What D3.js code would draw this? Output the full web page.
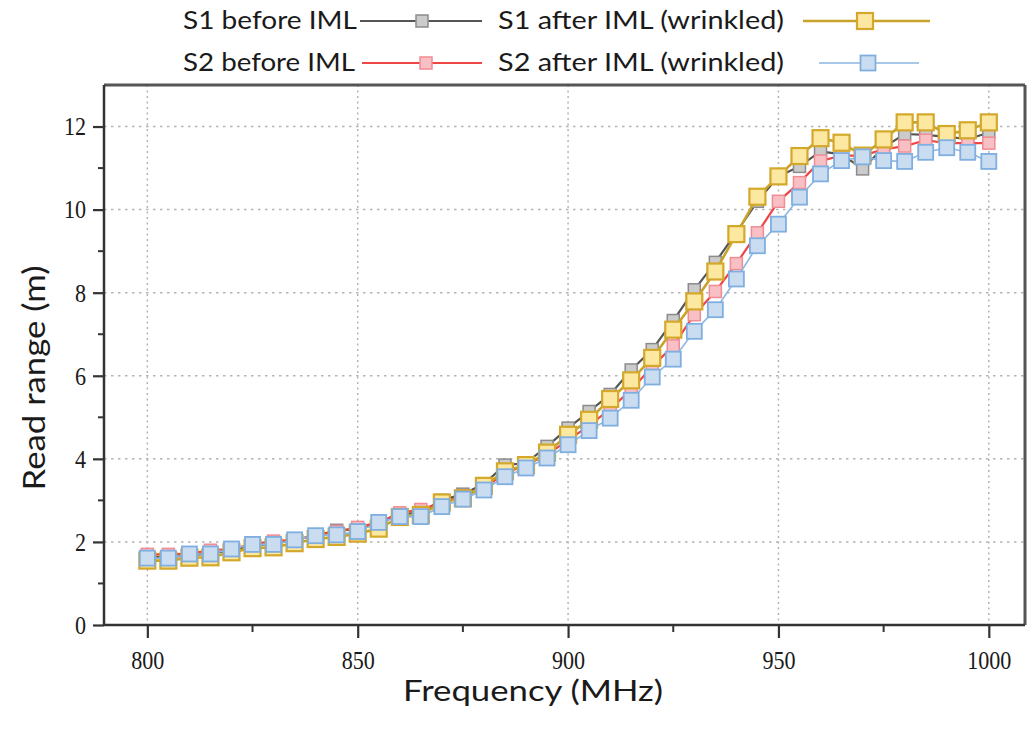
<!DOCTYPE html>
<html>
<head>
<meta charset="utf-8">
<script src="https://cdn.jsdelivr.net/npm/d3@7"></script>
<style>
  body { margin: 0; background: #ffffff; }
  svg { display: block; }
</style>
</head>
<body>
<svg id="chart" width="1030" height="729"></svg>
<script>
// Frequency sweep (MHz)
const frequencies = [800, 805, 810, 815, 820, 825, 830, 835, 840, 845,
  850, 855, 860, 865, 870, 875, 880, 885, 890, 895,
  900, 905, 910, 915, 920, 925, 930, 935, 940, 945,
  950, 955, 960, 965, 970, 975, 980, 985, 990, 995, 1000];

// Read range (m) for each sample
const s1Before = [1.65, 1.63, 1.68, 1.72, 1.80, 1.92, 1.95, 2.05, 2.15, 2.28,
  2.30, 2.45, 2.65, 2.72, 3.00, 3.15, 3.40, 3.85, 3.90, 4.30,
  4.74, 5.14, 5.55, 6.14, 6.63, 7.33, 8.07, 8.73, 9.45, 10.20,
  10.80, 11.04, 11.40, 11.33, 10.98, 11.50, 11.82, 11.80, 11.75, 11.70, 11.85];

const s2Before = [1.70, 1.70, 1.72, 1.80, 1.83, 1.95, 2.02, 2.05, 2.15, 2.25,
  2.35, 2.47, 2.70, 2.78, 2.95, 3.10, 3.30, 3.65, 3.85, 4.10,
  4.45, 4.80, 5.20, 5.66, 6.22, 6.72, 7.47, 8.03, 8.70, 9.44,
  10.20, 10.65, 11.17, 11.30, 11.30, 11.45, 11.53, 11.67, 11.60, 11.60, 11.60];

const s1After = [1.55, 1.55, 1.62, 1.63, 1.75, 1.85, 1.87, 1.97, 2.07, 2.12,
  2.20, 2.32, 2.60, 2.65, 2.95, 3.05, 3.35, 3.70, 3.85, 4.15,
  4.58, 4.94, 5.44, 5.89, 6.43, 7.11, 7.79, 8.51, 9.41, 10.31,
  10.80, 11.29, 11.72, 11.61, 11.30, 11.69, 12.10, 12.10, 11.82, 11.91, 12.10];

const s2After = [1.61, 1.61, 1.71, 1.71, 1.83, 1.94, 1.94, 2.05, 2.15, 2.17,
  2.25, 2.47, 2.61, 2.61, 2.85, 3.03, 3.25, 3.57, 3.78, 4.02,
  4.34, 4.68, 4.98, 5.41, 5.97, 6.40, 7.07, 7.59, 8.33, 9.13,
  9.65, 10.30, 10.86, 11.18, 11.27, 11.18, 11.16, 11.38, 11.49, 11.38, 11.16];

const seriesNames = ["S1 before IML", "S2 before IML", "S1 after IML (wrinkled)", "S2 after IML (wrinkled)"];

const xTicks = [800, 850, 900, 950, 1000];
const xMinorTicks = [825, 875, 925, 975];
const yTicks = [0, 2, 4, 6, 8, 10, 12];
const yMinorTicks = [1, 3, 5, 7, 9, 11];

const xTitle = "Frequency (MHz)";
const yTitle = "Read range (m)";

// ---- layout ----
const svg = d3.select("#chart");
const plot = { left: 104, right: 1025, top: 85, bottom: 625 };

const x = d3.scaleLinear().domain([789.7, 1008.6]).range([plot.left, plot.right]);
const y = d3.scaleLinear().domain([0, 13]).range([plot.bottom, plot.top]);

const styles = [
  { name: seriesNames[0], values: s1Before, line: "#555555", lw: 2.2, fill: "#cbcbcb", stroke: "#8c8c8c", size: 12, sw: 1.5 },
  { name: seriesNames[1], values: s2Before, line: "#f04545", lw: 2.2, fill: "#f8c0c4", stroke: "#f08c94", size: 12, sw: 1.5 },
  { name: seriesNames[2], values: s1After, line: "#c9a22a", lw: 2.6, fill: "#fde8a2", stroke: "#d4a82a", size: 16, sw: 2.2 },
  { name: seriesNames[3], values: s2After, line: "#8db6e2", lw: 1.6, fill: "#cadcf0", stroke: "#7faee0", size: 15, sw: 1.8 }
];

// ---- grid ----
const grid = svg.append("g");
grid.selectAll("line.hg").data(yTicks.filter(d => d > 0)).join("line")
  .attr("x1", plot.left).attr("x2", plot.right)
  .attr("y1", d => y(d)).attr("y2", d => y(d))
  .attr("stroke", "#b4b4b4").attr("stroke-width", 1.5)
  .attr("stroke-dasharray", "2.5,4.5");
grid.selectAll("line.vg").data(xTicks).join("line")
  .attr("x1", d => x(d)).attr("x2", d => x(d))
  .attr("y1", plot.top).attr("y2", plot.bottom)
  .attr("stroke", "#b4b4b4").attr("stroke-width", 1.5)
  .attr("stroke-dasharray", "2,3.5");

// ---- series ----
const lineGen = d3.line().x((d, i) => x(frequencies[i])).y(d => y(d));
styles.forEach(s => {
  const g = svg.append("g");
  g.append("path").datum(s.values)
    .attr("d", lineGen)
    .attr("fill", "none")
    .attr("stroke", s.line)
    .attr("stroke-width", s.lw);
  g.selectAll("rect").data(s.values).join("rect")
    .attr("x", (d, i) => x(frequencies[i]) - s.size / 2)
    .attr("y", d => y(d) - s.size / 2)
    .attr("width", s.size).attr("height", s.size)
    .attr("fill", s.fill)
    .attr("stroke", s.stroke)
    .attr("stroke-width", s.sw);
});

// ---- frame and axes ----
svg.append("line").attr("x1", plot.left).attr("x2", plot.right).attr("y1", plot.top).attr("y2", plot.top)
  .attr("stroke", "#555").attr("stroke-width", 3);
svg.append("line").attr("x1", plot.right).attr("x2", plot.right).attr("y1", plot.top).attr("y2", plot.bottom)
  .attr("stroke", "#555").attr("stroke-width", 3);

const serif = "'Liberation Serif', 'Times New Roman', serif";
const tickScaleX = 0.85;

const xAxis = svg.append("g").attr("transform", `translate(0,${plot.bottom})`)
  .call(d3.axisBottom(x).tickValues(xTicks).tickSize(13).tickSizeOuter(0).tickFormat(d3.format("d")));
const yAxis = svg.append("g").attr("transform", `translate(${plot.left},0)`)
  .call(d3.axisLeft(y).tickValues(yTicks).tickSize(11).tickSizeOuter(0).tickFormat(d3.format("d")));

[xAxis, yAxis].forEach(a => {
  a.select(".domain").attr("stroke", "#333").attr("stroke-width", 2.5);
  a.selectAll(".tick line").attr("stroke", "#333").attr("stroke-width", 2.2);
  a.selectAll(".tick text")
    .attr("font-family", serif)
    .attr("font-size", 26).attr("fill", "#1a1a1a")
    .attr("transform", `scale(${tickScaleX},1)`);
});
xAxis.select(".domain").attr("d", `M${plot.left},0H${plot.right}`);
yAxis.select(".domain").attr("d", `M0,${plot.top}V${plot.bottom}`);
xAxis.selectAll(".tick text").attr("y", 44).attr("dy", null);
yAxis.selectAll(".tick text").attr("x", -18 / tickScaleX);

svg.append("g").attr("transform", `translate(0,${plot.bottom})`)
  .selectAll("line").data(xMinorTicks).join("line")
  .attr("x1", d => x(d)).attr("x2", d => x(d)).attr("y1", 0).attr("y2", 7)
  .attr("stroke", "#333").attr("stroke-width", 2);
svg.append("g").attr("transform", `translate(${plot.left},0)`)
  .selectAll("line").data(yMinorTicks).join("line")
  .attr("y1", d => y(d)).attr("y2", d => y(d)).attr("x1", 0).attr("x2", -6)
  .attr("stroke", "#333").attr("stroke-width", 2);

// ---- titles ----
const sans = "Lato, 'Open Sans', 'DejaVu Sans', sans-serif";
svg.append("text").text(xTitle)
  .attr("x", 533).attr("y", 701).attr("text-anchor", "middle")
  .attr("font-family", sans).attr("font-size", 29).attr("fill", "#1a1a1a")
  .attr("textLength", 260).attr("lengthAdjust", "spacingAndGlyphs");
svg.append("text").text(yTitle)
  .attr("transform", "translate(45,378) rotate(-90)")
  .attr("text-anchor", "middle")
  .attr("font-family", sans).attr("font-size", 30).attr("fill", "#1a1a1a")
  .attr("textLength", 225).attr("lengthAdjust", "spacingAndGlyphs");

// ---- legend ----
const legendItems = [
  { s: styles[0], tx: 183, tw: 174, ty: 29, lx1: 360, lx2: 482, mx: 422 },
  { s: styles[2], tx: 498, tw: 286, ty: 29, lx1: 803, lx2: 930, mx: 865 },
  { s: styles[1], tx: 183, tw: 172, ty: 71, lx1: 362, lx2: 482, mx: 426 },
  { s: styles[3], tx: 498, tw: 286, ty: 71, lx1: 819, lx2: 919, mx: 868 }
];
const legend = svg.append("g");
legendItems.forEach(it => {
  legend.append("text").text(it.s.name)
    .attr("x", it.tx).attr("y", it.ty)
    .attr("font-family", sans).attr("font-size", 25).attr("fill", "#1a1a1a")
    .attr("textLength", it.tw).attr("lengthAdjust", "spacingAndGlyphs");
  const cy = it.ty - 8;
  legend.append("line").attr("x1", it.lx1).attr("x2", it.lx2).attr("y1", cy).attr("y2", cy)
    .attr("stroke", it.s.line).attr("stroke-width", it.s.lw);
  legend.append("rect")
    .attr("x", it.mx - it.s.size / 2).attr("y", cy - it.s.size / 2)
    .attr("width", it.s.size).attr("height", it.s.size)
    .attr("fill", it.s.fill).attr("stroke", it.s.stroke).attr("stroke-width", it.s.sw);
});
</script>
</body>
</html>
